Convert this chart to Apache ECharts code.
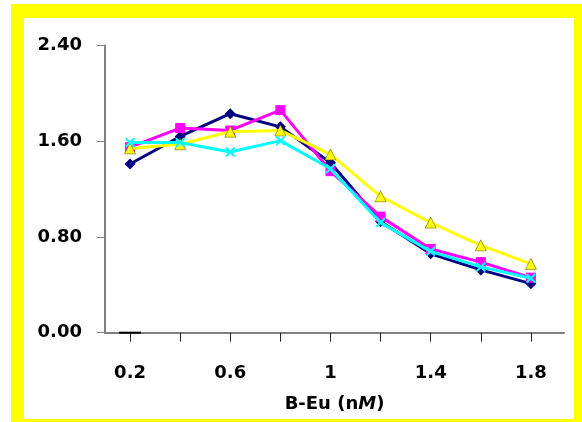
<!DOCTYPE html>
<html>
<head>
<meta charset="utf-8">
<script src="https://cdn.jsdelivr.net/npm/echarts@6/dist/echarts.min.js"></script>
<style>
  html, body { margin: 0; padding: 0; background: #ffffff; }
  #wrap { position: relative; width: 582px; height: 422px; overflow: hidden; background: #ffffff; }
  #frame { position: absolute; left: 11px; top: 4px; width: 571px; height: 418px; background: #ffff00; }
  #inner { position: absolute; left: 24px; top: 18px; width: 550px; height: 401px; background: #ffffff; }
  #chart { position: absolute; left: 0; top: 0; width: 582px; height: 422px; }
</style>
</head>
<body>
<div id="wrap">
  <div id="frame"></div>
  <div id="inner"></div>
  <div id="chart"></div>
</div>
<script>
// B-Eu concentration (nM)
const xValues = [0.2, 0.4, 0.6, 0.8, 1.0, 1.2, 1.4, 1.6, 1.8];
const xTickValues = [0.2, 0.4, 0.6, 0.8, 1.0, 1.2, 1.4, 1.6, 1.8];
const xLabelValues = [0.2, 0.6, 1.0, 1.4, 1.8];
const yTicks = [0, 0.8, 1.6, 2.4];

const seriesNavy    = [1.41, 1.64, 1.83, 1.72, 1.42, 0.93, 0.66, 0.525, 0.41];
const seriesMagenta = [1.55, 1.71, 1.69, 1.86, 1.35, 0.97, 0.70, 0.59, 0.46];
const seriesYellow  = [1.54, 1.575, 1.68, 1.69, 1.49, 1.14, 0.92, 0.73, 0.575];
const seriesCyan    = [1.59, 1.59, 1.51, 1.605, 1.37, 0.92, 0.68, 0.55, 0.455];
const seriesZero    = [0];

const font = "'DejaVu Sans', 'Liberation Sans', Arial, sans-serif";
const pairs = (vals) => vals.map((v, i) => [xValues[i], v]);
const xMark = 'path://M0,1.5 L1.5,0 L5,3.5 L8.5,0 L10,1.5 L6.5,5 L10,8.5 L8.5,10 L5,6.5 L1.5,10 L0,8.5 L3.5,5 Z';

const chart = echarts.init(document.getElementById('chart'), null, { renderer: 'canvas' });
chart.setOption({
  backgroundColor: 'transparent',
  animation: false,
  grid: { left: 105, right: 18, top: 45.5, bottom: 89.3, containLabel: false },
  xAxis: {
    type: 'value',
    min: 0.1,
    max: 1.932,
    splitLine: { show: false },
    axisLine: { show: true, onZero: false, lineStyle: { color: '#808080', width: 2 } },
    axisTick: { show: true, inside: false, length: 9, customValues: xTickValues,
                lineStyle: { color: '#222222', width: 1 } },
    axisLabel: {
      customValues: xLabelValues,
      margin: 32,
      color: '#000000',
      fontFamily: font,
      fontWeight: 'bold',
      fontSize: 18,
      formatter: (v) => String(+(+v).toFixed(1))
    },
    name: '{a|B-Eu (n}{b|M}{a|)}',
    nameLocation: 'middle',
    nameGap: 63,
    nameTextStyle: {
      rich: {
        a: { fontFamily: font, fontWeight: 'bold', fontSize: 18, color: '#000000' },
        b: { fontFamily: font, fontWeight: 'bold', fontStyle: 'italic', fontSize: 18, color: '#000000' }
      }
    }
  },
  yAxis: {
    type: 'value',
    min: 0,
    max: 2.4,
    interval: 0.8,
    splitLine: { show: false },
    axisLine: { show: true, lineStyle: { color: '#808080', width: 2 } },
    axisTick: { show: true, inside: false, length: 8, lineStyle: { color: '#808080', width: 1 } },
    axisLabel: {
      margin: 23,
      color: '#000000',
      fontFamily: font,
      fontWeight: 'bold',
      fontSize: 18,
      formatter: (v) => v.toFixed(2)
    }
  },
  series: [
    {
      type: 'line', data: pairs(seriesNavy), symbol: 'diamond', symbolSize: 11,
      lineStyle: { color: '#000080', width: 3 }, itemStyle: { color: '#000080' }, z: 2
    },
    {
      type: 'line', data: pairs(seriesMagenta), symbol: 'rect', symbolSize: 10,
      lineStyle: { color: '#ff00ff', width: 3 }, itemStyle: { color: '#ff00ff' }, z: 3
    },
    {
      type: 'line', data: pairs(seriesYellow), symbol: 'triangle', symbolSize: 11,
      lineStyle: { color: '#ffff00', width: 3 },
      itemStyle: { color: '#ffff00', borderColor: '#666600', borderWidth: 0.6 }, z: 4
    },
    {
      type: 'line', data: pairs(seriesCyan), symbol: xMark, symbolSize: 10,
      lineStyle: { color: '#00ffff', width: 3 }, itemStyle: { color: '#00ffff' }, z: 5
    },
    {
      type: 'line', data: pairs(seriesZero), symbol: 'rect', symbolSize: [22, 2],
      lineStyle: { width: 0 }, itemStyle: { color: '#000000' }, z: 6
    }
  ]
});
</script>
</body>
</html>
